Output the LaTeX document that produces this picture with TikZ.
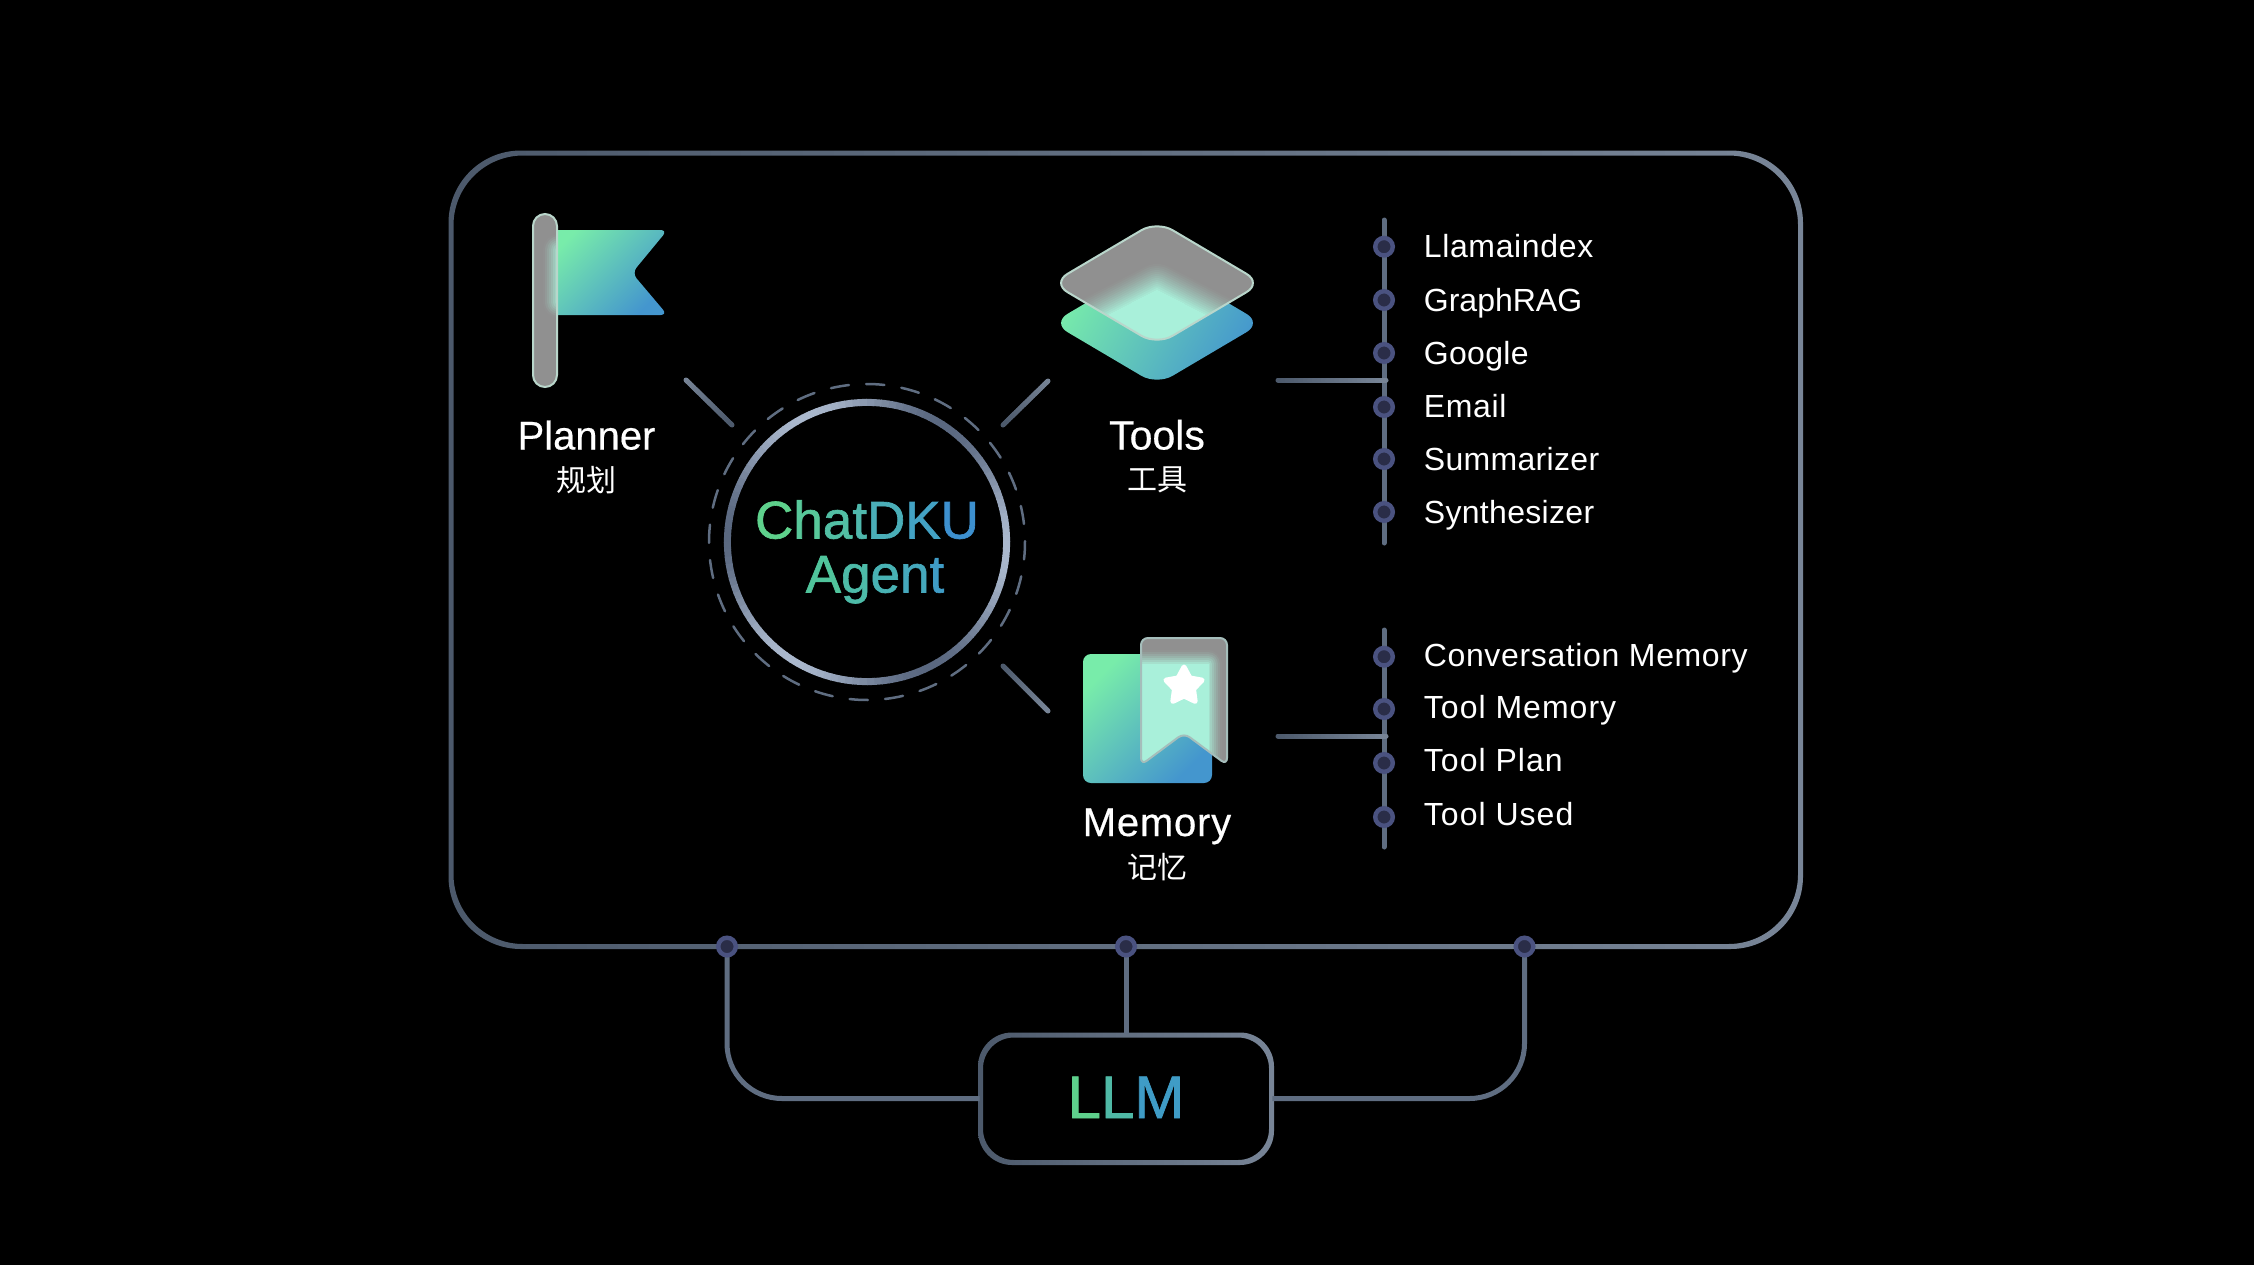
\documentclass[tikz,border=0pt]{standalone}
\usepackage{fontspec}
\setmainfont{Liberation Sans}
\newfontfamily\cjk{Noto Sans CJK SC}
\newfontfamily\lsfont{Liberation Sans}[LetterSpace=2]
\newfontfamily\lsless{Liberation Sans}[LetterSpace=1]
\newfontfamily\lsmore{Liberation Sans}[LetterSpace=3.2]
\newfontfamily\plainf{Liberation Sans}
\newfontfamily\gradf{Liberation Sans}[FakeBold=1.2]
\newfontfamily\bigf{Liberation Sans}[FakeBold=0.4]
\newfontfamily\bigls{Liberation Sans}[FakeBold=0.4,LetterSpace=2]
\usetikzlibrary{calc,shapes.geometric}
\definecolor{gA}{HTML}{78ECAA}
\definecolor{gB}{HTML}{4496CE}
\definecolor{mint}{HTML}{A9F0DA}
\definecolor{glass}{HTML}{909090}
\definecolor{glassedge}{HTML}{B9D6CB}
\definecolor{lineD}{HTML}{4C596B}
\definecolor{lineL}{HTML}{788597}
\definecolor{lineM}{HTML}{5F6D81}
\definecolor{ringL}{HTML}{AAB8CD}
\definecolor{ringD}{HTML}{5A6880}
\definecolor{dotO}{HTML}{4A5280}
\definecolor{dotI}{HTML}{2A2D48}
\tikzset{
  conn/.style={draw=lineM,line width=2.5pt,line cap=round},
  dotmark/.style={circle,fill=dotI,draw=dotO,line width=2.2pt,minimum size=8.8pt,inner sep=0pt},
  bigname/.style={anchor=base,text=white,font=\bigf\fontsize{20}{22}\selectfont,inner sep=0pt},
  cnname/.style={anchor=center,text=white,font=\cjk\fontsize{15}{17}\selectfont,inner sep=0pt},
  item/.style={anchor=base west,text=white,font=\lsfont\fontsize{16}{18}\selectfont,inner sep=0pt},
  gtext/.style={anchor=base,font=\gradf\fontsize{26.5}{28}\selectfont,inner sep=0pt},
}
% straight connector with a colour ramp
\newcommand{\ramp}[4]{%
  \foreach \i in {0,...,23}{%
    \pgfmathsetmacro\m{100*(\i+0.5)/24}%
    \pgfmathsetmacro\p{\i/24}%
    \pgfmathsetmacro\q{(\i+1)/24}%
    \draw[conn,draw={#4!\m!#3}] ($(#1)!\p!(#2)$) -- ($(#1)!\q!(#2)$);
  }%
}
\def\flagpath{(545,230) -- (667.5,230) -- (632,273) -- (667.5,315) -- (545,315) -- cycle}
\def\lowdia{(1157,261) -- (1262,323) -- (1157,385) -- (1052,323) -- cycle}
\def\updia{(1157,221) -- (1262,283) -- (1157,345) -- (1052,283) -- cycle}
\def\bmpath{(1141,638) -- (1227,638) -- (1227,765) -- (1184,733) -- (1141,765) -- cycle}
\begin{document}
\begin{tikzpicture}[x=0.5pt,y=-0.5pt]
\useasboundingbox (0,0) rectangle (2254,1264);
\fill[black] (-5,-5) rectangle (2259,1269);

% outer frame
\shade[even odd rule,left color=lineD,right color=lineL]
  [rounded corners=36.2pt] (448.5,150.5) rectangle (1803,949)
  [rounded corners=34.8pt] (453.5,155.5) rectangle (1798,944);

% agent
\coordinate (agentc) at (867,542);
\foreach \a in {0,3,...,357}{%
  \pgfmathsetmacro\m{50+50*cos(3*(\a-115))}%
  \draw[line width=3.5pt,draw={ringL!\m!ringD}] ($(agentc)+(\a:69.8pt)$) arc[start angle=\a,end angle=\a+3.4,radius=69.8pt];
}
\foreach \k in {0,...,27}{%
  \pgfmathsetmacro\a{87-12.857*\k}%
  \draw[line width=1.25pt,draw=lineM,line cap=round] ($(agentc)+(\a+3.3:79pt)$) arc[start angle=\a+3.3,end angle=\a-3.3,radius=79pt];
}
\node[gtext] (chat) at (867,538.5) {\textcolor[HTML]{5ED18C}{C}\textcolor[HTML]{58C89A}{h}\textcolor[HTML]{52BFA4}{a}\textcolor[HTML]{4FB8AC}{t}\textcolor[HTML]{4AAEB8}{D}\textcolor[HTML]{43A2C4}{K}\textcolor[HTML]{3D90CF}{U}};
\node[gtext] (agent) at (875,592.5) {\textcolor[HTML]{50C49C}{A}\textcolor[HTML]{4DBBA8}{g}\textcolor[HTML]{48B2B4}{e}\textcolor[HTML]{45A8BC}{n}\textcolor[HTML]{3F9CC6}{t}};

% spokes
\coordinate (s1a) at (686,380); \coordinate (s1b) at (732,425);
\coordinate (s2a) at (1048,381); \coordinate (s2b) at (1003,425);
\coordinate (s3a) at (1003,666); \coordinate (s3b) at (1048,711);
\ramp{s1a}{s1b}{lineL}{lineD}
\ramp{s2a}{s2b}{lineL}{lineD}
\ramp{s3a}{s3b}{lineD}{lineL}

% flag icon
\shade[left color=gA,right color=gB,shading angle=45,rounded corners=3.5pt] \flagpath;
\begin{scope}
  \clip[rounded corners=6pt] (533,214) rectangle (557,387);
  \fill[glass] (525,205) rectangle (565,395);
  \foreach \k in {16,14,...,0}{%
    \pgfmathsetmacro\m{100*(1-\k/17)^1.3}%
    \draw[draw={mint!\m!glass},fill={mint!\m!glass},line width=\k pt,line join=round] (559,250) rectangle (575,302);
  }
\end{scope}
\draw[glassedge,line width=1pt,rounded corners=6pt] (533,214) rectangle (557,387);

% tools icon
\shade[left color=gA,right color=gB,shading angle=60,rounded corners=9pt] \lowdia;
\begin{scope}
  \clip[rounded corners=9pt] \updia;
  \fill[glass] (1040,210) rectangle (1270,350);
  \foreach \k in {26,24,...,0}{%
    \pgfmathsetmacro\m{100*(1-\k/28)^1.3}%
    \draw[draw={mint!\m!glass},fill={mint!\m!glass},line width=\k pt,line join=round] (1157,290) -- (1240,333) -- (1157,376) -- (1074,333) -- cycle;
  }
\end{scope}
\draw[glassedge,line width=1pt,rounded corners=9pt] \updia;

% memory icon
\shade[left color=gA,right color=gB,shading angle=45,rounded corners=4pt] (1083,654) rectangle (1212,783);
\begin{scope}
  \clip[rounded corners=3.5pt] \bmpath;
  \fill[glass] (1135,630) rectangle (1235,770);
  \foreach \k in {14,12,...,0}{%
    \pgfmathsetmacro\m{100*(1-\k/15)^1.3}%
    \draw[draw={mint!\m!glass},fill={mint!\m!glass},line width=\k pt,line join=round] (1100,664) rectangle (1208,800);
  }
\end{scope}
\draw[draw=glassedge!70!lineL,line width=1pt,rounded corners=3.5pt] \bmpath;
\node[star,star points=5,star point ratio=1.9,fill=white,draw=white,line width=2.5pt,line join=round,minimum size=19pt,inner sep=0pt] (starmark) at (1184,686) {};

% names
\node[bigname] (planner) at (586.5,449.5) {Planner};
\node[cnname] (plannercn) at (586.5,480) {规划};
\node[bigname,font=\bigf\fontsize{20.5}{22}\selectfont] (tools) at (1157,449.5) {Tools};
\node[cnname] (toolscn) at (1157,480) {工具};
\node[bigname,font=\bigls\fontsize{20}{22}\selectfont] (memory) at (1157,836) {Memory};
\node[cnname] (memorycn) at (1157,867) {记忆};

% tool list
\coordinate (tt) at (1384,220); \coordinate (tb) at (1384,543);
\coordinate (tj) at (1386,380); \coordinate (tbr) at (1278,380);
\draw[conn] (tt) -- (tb);
\ramp{tbr}{tj}{lineD}{lineL}
\foreach \n/\y/\b/\t in {a/246.7/257.7/Llamaindex,b/300/311/{\plainf GraphRAG},c/353/364.3/{\lsless Google},d/407/417.7/Email,e/459/470.3/{\lsless Summarizer},f/512/523.3/{\lsless Synthesizer}}{%
  \node[dotmark] (d\n) at (1384,\y) {};
  \node[item] (i\n) at (1423.5,\b) {\t};
}
% memory list
\coordinate (mt) at (1384,630); \coordinate (mb) at (1384,847);
\coordinate (mj) at (1386,736); \coordinate (mbr) at (1278,736);
\draw[conn] (mt) -- (mb);
\ramp{mbr}{mj}{lineD}{lineL}
\foreach \n/\y/\b/\t in {a/656.7/666/Conversation Memory,b/709/718.3/{\lsmore Tool Memory},c/763/771.3/{\lsmore Tool Plan},d/817/825.3/{\lsmore Tool Used}}{%
  \node[dotmark] (m\n) at (1384,\y) {};
  \node[item] (j\n) at (1423.5,\b) {\t};
}

% LLM
\node[minimum width=146pt,minimum height=64pt,inner sep=0pt] (llm) at (1126,1098.5) {};
\shade[even odd rule,left color=lineD,right color=lineL]
  [rounded corners=17pt] (978,1032.5) rectangle (1274,1165)
  [rounded corners=15.5pt] (983,1037.5) rectangle (1269,1160);
\node[anchor=base,font=\gradf\fontsize{30}{32}\selectfont,inner sep=0pt] (llmtext) at (1126,1118) {\textcolor[HTML]{5ED08C}{L}\textcolor[HTML]{4FB9A6}{L}\textcolor[HTML]{3F9CC6}{M}};

% bus connectors
\coordinate (busL) at (727,946.5); \coordinate (busM) at (1126,946.5); \coordinate (busR) at (1524.5,946.5);
\draw[conn,line cap=butt,rounded corners=27.5pt] (busL) |- (llm.west);
\draw[conn,line cap=butt,rounded corners=27.5pt] (busR) |- (llm.east);
\draw[conn,line cap=butt] (busM) -- (llm.north);
\node[dotmark] (bl) at (busL) {};
\node[dotmark] (bm) at (busM) {};
\node[dotmark] (br) at (busR) {};
\end{tikzpicture}
\end{document}
